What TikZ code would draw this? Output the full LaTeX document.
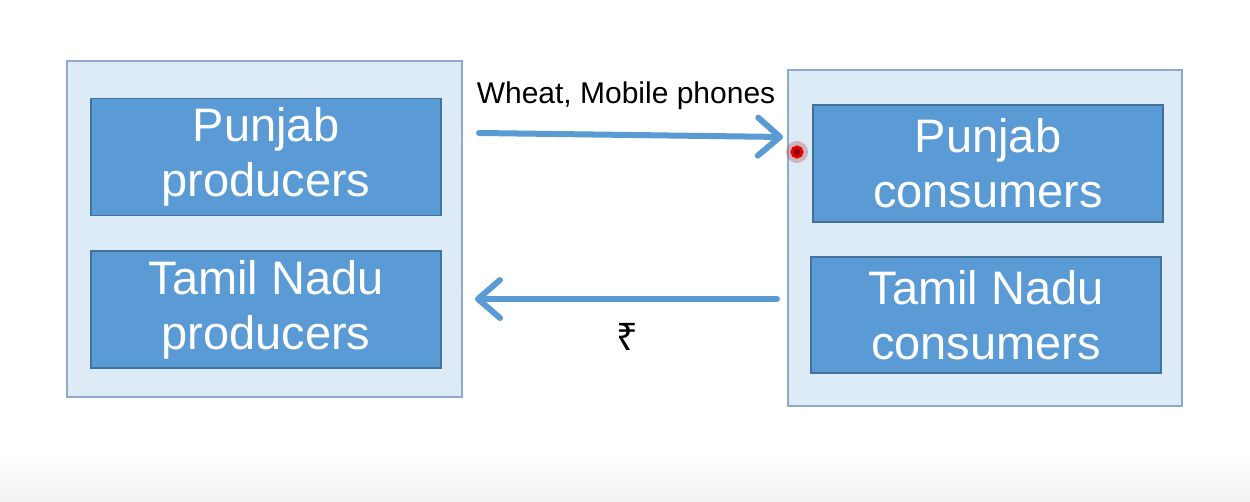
\documentclass[tikz,border=0pt]{standalone}
\usepackage{fontspec}
\setmainfont{Liberation Sans}
\newfontfamily\rupeefont{Noto Sans}
\usetikzlibrary{arrows.meta}
\definecolor{outerfill}{HTML}{DDEBF7}
\definecolor{outerline}{HTML}{8FAACB}
\definecolor{innerfill}{HTML}{5B9BD5}
\definecolor{innerline}{HTML}{41719C}
\definecolor{arrowblue}{HTML}{5B9BD5}
\tikzset{
  outerbox/.style={draw=outerline, fill=outerfill, line width=1.5pt, rectangle, inner sep=0pt},
  innerbox/.style={draw=innerline, fill=innerfill, line width=1.5pt, rectangle, inner sep=0pt,
    text=white, align=center, font=\fontsize{47}{55}\selectfont},
  flow/.style={draw=arrowblue, line width=6pt, line cap=round,
    -{Straight Barb[length=22pt, width=38pt, line width=6pt, round]}},
  lbl/.style={inner sep=0pt, text=black},
}
\begin{document}
\begin{tikzpicture}[x=1pt, y=-1pt]
\useasboundingbox (0,0) rectangle (1250,502);
\fill[white] (0,0) rectangle (1250,502);
\shade[top color=white, bottom color=black!5] (0,455) rectangle (1250,502);
% left group
\node[outerbox, minimum width=395pt, minimum height=336pt] (left) at (264.5,229) {};
\node[innerbox, minimum width=350pt, minimum height=117pt] (pp) at (266,157) {Punjab\\producers};
\node[innerbox, minimum width=350pt, minimum height=117pt] (tp) at (266,309.5) {Tamil Nadu\\producers};
% right group
\node[outerbox, minimum width=394pt, minimum height=336pt] (right) at (985,238) {};
\node[innerbox, minimum width=350pt, minimum height=117pt] (pc) at (988,163.5) {Punjab\\consumers};
\node[innerbox, minimum width=350pt, minimum height=116pt] (tc) at (986,315) {Tamil Nadu\\consumers};
% arrows
\coordinate (a1s) at (479,133);
\coordinate (a1e) at (783,137);
\coordinate (a2s) at (777,299);
\coordinate (a2e) at (475,299);
\draw[flow] (a1s) -- (a1e);
\draw[flow] (a2s) -- (a2e);
\node[lbl, font=\fontsize{30}{36}\selectfont] (goods) at (626,96) {Wheat, Mobile phones};
\node[lbl, font=\rupeefont\fontsize{38}{44}\selectfont] (money) at (627,337) {₹};
% pointer highlight
\fill[red!40!gray, opacity=0.35] (797,152) circle (11pt);
\draw[red!90!black, line width=3pt, fill=red!50!black] (797,152) circle (5pt);
\end{tikzpicture}
\end{document}
